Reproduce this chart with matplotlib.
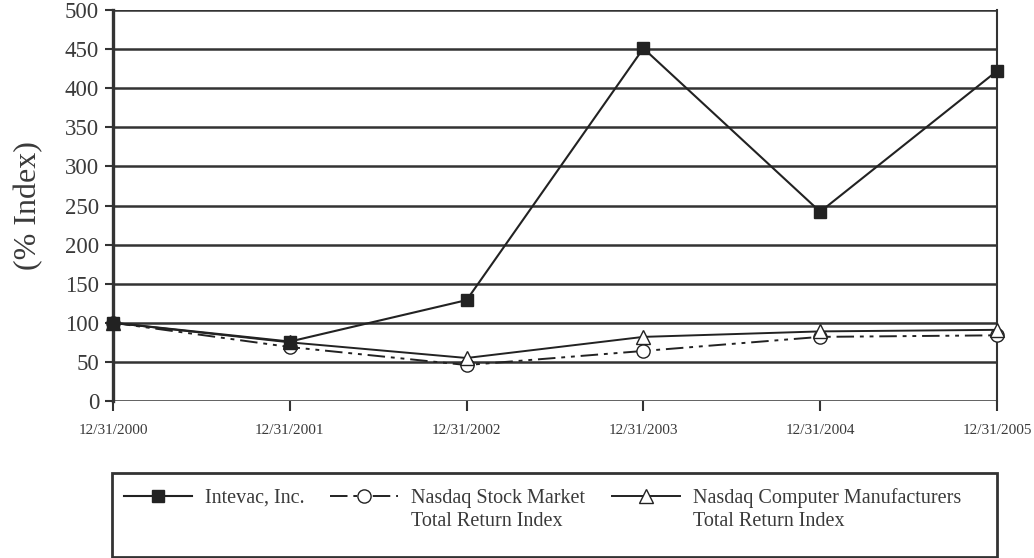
import matplotlib
matplotlib.use("Agg")
import matplotlib.pyplot as plt
from matplotlib.patches import Rectangle

dates = ["12/31/2000", "12/31/2001", "12/31/2002", "12/31/2003", "12/31/2004", "12/31/2005"]
intevac = [100, 76, 129, 451, 242, 422]
nasdaq_stock = [100, 69, 46, 64, 82, 84]
nasdaq_computer = [100, 75, 55, 82, 89, 91]
yticks = [0, 50, 100, 150, 200, 250, 300, 350, 400, 450, 500]
legend_first = ["Intevac, Inc.", "Nasdaq Stock Market", "Nasdaq Computer Manufacturers"]
legend_second = ["", "Total Return Index", "Total Return Index"]

plt.rcParams['font.family'] = ['Liberation Serif', 'DejaVu Serif']

W, H = 1034, 558
fig = plt.figure(figsize=(W / 100, H / 100), dpi=100)
ax = fig.add_axes([113 / W, 1 - 401 / H, (997 - 113) / W, (401 - 10) / H])

x = list(range(len(dates)))
grid_c = "#333333"
txt_c = "#3a3a3a"
for yv in yticks:
    ax.axhline(yv, color=grid_c, lw=1.8, zorder=1)

l2, = ax.plot(x, nasdaq_stock, color="#222222", lw=1.4, dashes=(9, 3, 2, 3, 2, 3),
              marker="o", markersize=9.5, markerfacecolor="white", markeredgecolor="#222222",
              markeredgewidth=1.0, zorder=3, clip_on=False)
l3, = ax.plot(x, nasdaq_computer, color="#222222", lw=1.4,
              marker="^", markersize=9.5, markerfacecolor="white", markeredgecolor="#222222",
              markeredgewidth=1.0, zorder=4, clip_on=False)
l1, = ax.plot(x, intevac, color="#222222", lw=1.5,
              marker="s", markersize=9, markerfacecolor="#222222", markeredgecolor="#222222",
              zorder=5, clip_on=False)

ax.set_xlim(0, 5)
ax.set_ylim(0, 500)
ax.set_yticks(yticks)
ax.set_yticklabels([str(v) for v in yticks], fontsize=16.5, color=txt_c)
ax.set_xticks(x)
ax.set_xticklabels(dates, fontsize=11, color=txt_c)
ax.tick_params(axis="y", direction="out", length=6, width=1.5, color=grid_c, pad=4)
ax.tick_params(axis="x", direction="out", length=7.5, width=1.5, color=grid_c, pad=9)
for s in ["top", "bottom"]:
    ax.spines[s].set_visible(False)
for s in ["left", "right"]:
    ax.spines[s].set_color(grid_c)
ax.spines["left"].set_linewidth(2.4)
ax.spines["right"].set_linewidth(1.5)
ax.set_ylabel("(% Index)", fontsize=23, color=txt_c)
ax.yaxis.set_label_coords((43 - 113) / 884, 0.5)

# legend frame
fig.add_artist(Rectangle((112 / W, 1 - 557 / H), (997 - 112) / W, (557 - 473) / H,
                         transform=fig.transFigure, fill=False, edgecolor=grid_c, lw=2.0))

fs = 14.5
fs_px = fs * 100 / 72
handle_x = [124, 330, 612]
row_y = 1 - 498 / H
legs = []
for hx, h, lab in zip(handle_x, [l1, l2, l3], legend_first):
    lg = fig.legend([h], [lab], loc="center left", bbox_to_anchor=(hx / W, row_y),
                    fontsize=fs, frameon=False, borderpad=0, borderaxespad=0,
                    handlelength=68 / fs_px, handletextpad=13 / fs_px, labelcolor=txt_c)
    legs.append(lg)

fig.canvas.draw()
renderer = fig.canvas.get_renderer()
for lg, second in zip(legs, legend_second):
    if not second:
        continue
    t = lg.get_texts()[0]
    bb = t.get_window_extent(renderer)
    fig.text(bb.x0 / W, 1 - 522 / H, second, fontsize=fs, color=txt_c,
             ha="left", va="center")

fig.savefig("out.png", dpi=100)
